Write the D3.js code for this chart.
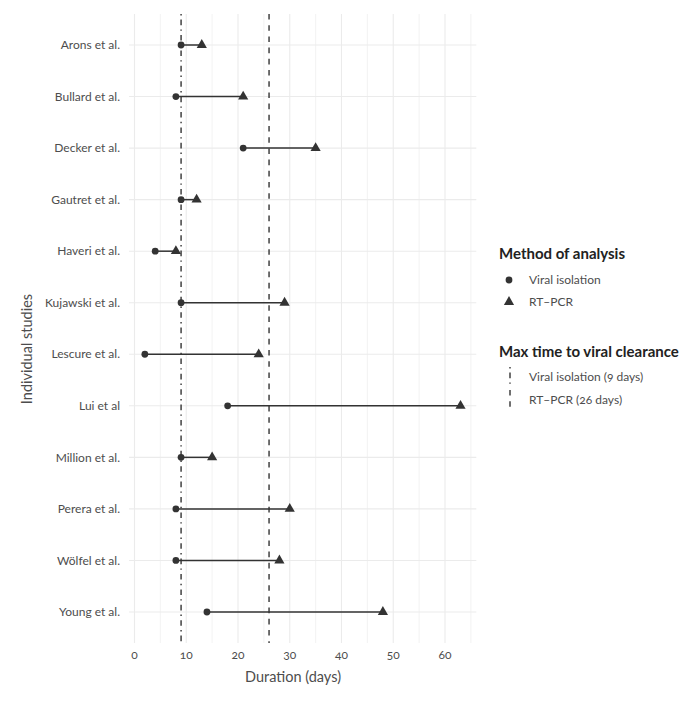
<!DOCTYPE html>
<html><head><meta charset="utf-8">
<script src="https://cdn.jsdelivr.net/npm/d3@7"></script>
<style>
body{margin:0;background:#fff;}
text{font-family:Lato,"Open Sans",sans-serif;font-variant-numeric:oldstyle-nums;}
</style></head>
<body>
<svg id="chart" width="687" height="703"></svg>
<script>
const studies = ["Arons et al.","Bullard et al.","Decker et al.","Gautret et al.","Haveri et al.","Kujawski et al.","Lescure et al.","Lui et al","Million et al.","Perera et al.","Wölfel et al.","Young et al."];
const viralIsolation = [9,8,21,9,4,9,2,18,9,8,8,14];
const rtPcr = [13,21,35,12,8,29,24,63,15,30,28,48];
const xTicks = [0,10,20,30,40,50,60];
const xMinor = [5,15,25,35,45,55,65];
const refLines = [{label:"Viral isolation (9 days)", value:9, dash:"1.4,4.2,5.6,4.2"},
                  {label:"RT\u2013PCR (26 days)", value:26, dash:"5.6,5.6"}];
const methods = ["Viral isolation","RT\u2013PCR"];

const svg = d3.select("#chart");
const x = d3.scaleLinear().domain([-1.05,66.05]).range([129.07,476.3]);
const y = d3.scalePoint().domain(studies).range([45,612]);
const panelTop = 14, panelBottom = 643;
const dark = "#333333", grid = "#ebebeb", txt = "#4d4d4d";

const g = svg.append("g");
g.selectAll(".minor").data(xMinor).join("line")
  .attr("x1",d=>x(d)).attr("x2",d=>x(d)).attr("y1",panelTop).attr("y2",panelBottom)
  .attr("stroke",grid).attr("stroke-width",0.6);
g.selectAll(".major").data(xTicks).join("line")
  .attr("x1",d=>x(d)).attr("x2",d=>x(d)).attr("y1",panelTop).attr("y2",panelBottom)
  .attr("stroke",grid).attr("stroke-width",1.1);
g.selectAll(".hmajor").data(studies).join("line")
  .attr("x1",x.range()[0]).attr("x2",x.range()[1]).attr("y1",d=>y(d)).attr("y2",d=>y(d))
  .attr("stroke",grid).attr("stroke-width",1.1);

g.selectAll(".seg").data(studies).join("line")
  .attr("x1",(d,i)=>x(viralIsolation[i])).attr("x2",(d,i)=>x(rtPcr[i]))
  .attr("y1",d=>y(d)).attr("y2",d=>y(d)).attr("stroke",dark).attr("stroke-width",1.5);

g.selectAll(".ref").data(refLines).join("line")
  .attr("x1",d=>x(d.value)).attr("x2",d=>x(d.value)).attr("y1",panelTop).attr("y2",panelBottom)
  .attr("stroke",dark).attr("stroke-width",1.4).attr("stroke-dasharray",d=>d.dash);

g.selectAll(".pt").data(studies).join("circle")
  .attr("cx",(d,i)=>x(viralIsolation[i])).attr("cy",d=>y(d)).attr("r",3.4).attr("fill",dark);
const tri = d3.symbol().type(d3.symbolTriangle).size(45);
g.selectAll(".tri").data(studies).join("path")
  .attr("d",tri).attr("transform",(d,i)=>`translate(${x(rtPcr[i])},${y(d)})`).attr("fill",dark);

g.selectAll(".ylab").data(studies).join("text")
  .attr("x",120).attr("y",d=>y(d)).attr("dy","0.35em").attr("text-anchor","end")
  .attr("font-size",12).attr("fill",txt).text(d=>d);
g.selectAll(".xlab").data(xTicks).join("text")
  .attr("x",d=>x(d)).attr("y",655).attr("dy","0.35em").attr("text-anchor","middle")
  .attr("font-size",12).attr("fill",txt).text(d=>d);
svg.append("text").attr("x",293).attr("y",682).attr("text-anchor","middle")
  .attr("font-size",14.5).attr("fill",txt).text("Duration (days)");
svg.append("text").attr("transform","translate(32,349) rotate(-90)").attr("text-anchor","middle")
  .attr("font-size",14.5).attr("fill",txt).text("Individual studies");

const lg = svg.append("g");
lg.append("text").attr("x",499).attr("y",259).attr("font-size",15).attr("font-weight","bold")
  .attr("fill","#222").text("Method of analysis");
const legY = [280,302];
lg.append("circle").attr("cx",509).attr("cy",legY[0]).attr("r",3.4).attr("fill",dark);
lg.append("path").attr("d",tri).attr("transform",`translate(509,${legY[1]})`).attr("fill",dark);
lg.selectAll(".ml").data(methods).join("text")
  .attr("x",529).attr("y",(d,i)=>legY[i]).attr("dy","0.35em").attr("font-size",12).attr("fill",txt).text(d=>d);

lg.append("text").attr("x",499).attr("y",357).attr("font-size",15).attr("font-weight","bold")
  .attr("fill","#222").text("Max time to viral clearance");
const lineY = [377,400];
lg.selectAll(".lk").data(refLines).join("line")
  .attr("x1",510).attr("x2",510).attr("y1",(d,i)=>lineY[i]-10).attr("y2",(d,i)=>lineY[i]+10)
  .attr("stroke",dark).attr("stroke-width",1.4).attr("stroke-dasharray",d=>d.dash);
lg.selectAll(".ll").data(refLines).join("text")
  .attr("x",529).attr("y",(d,i)=>lineY[i]).attr("dy","0.35em").attr("font-size",12).attr("fill",txt).text(d=>d.label);
</script>
</body></html>
